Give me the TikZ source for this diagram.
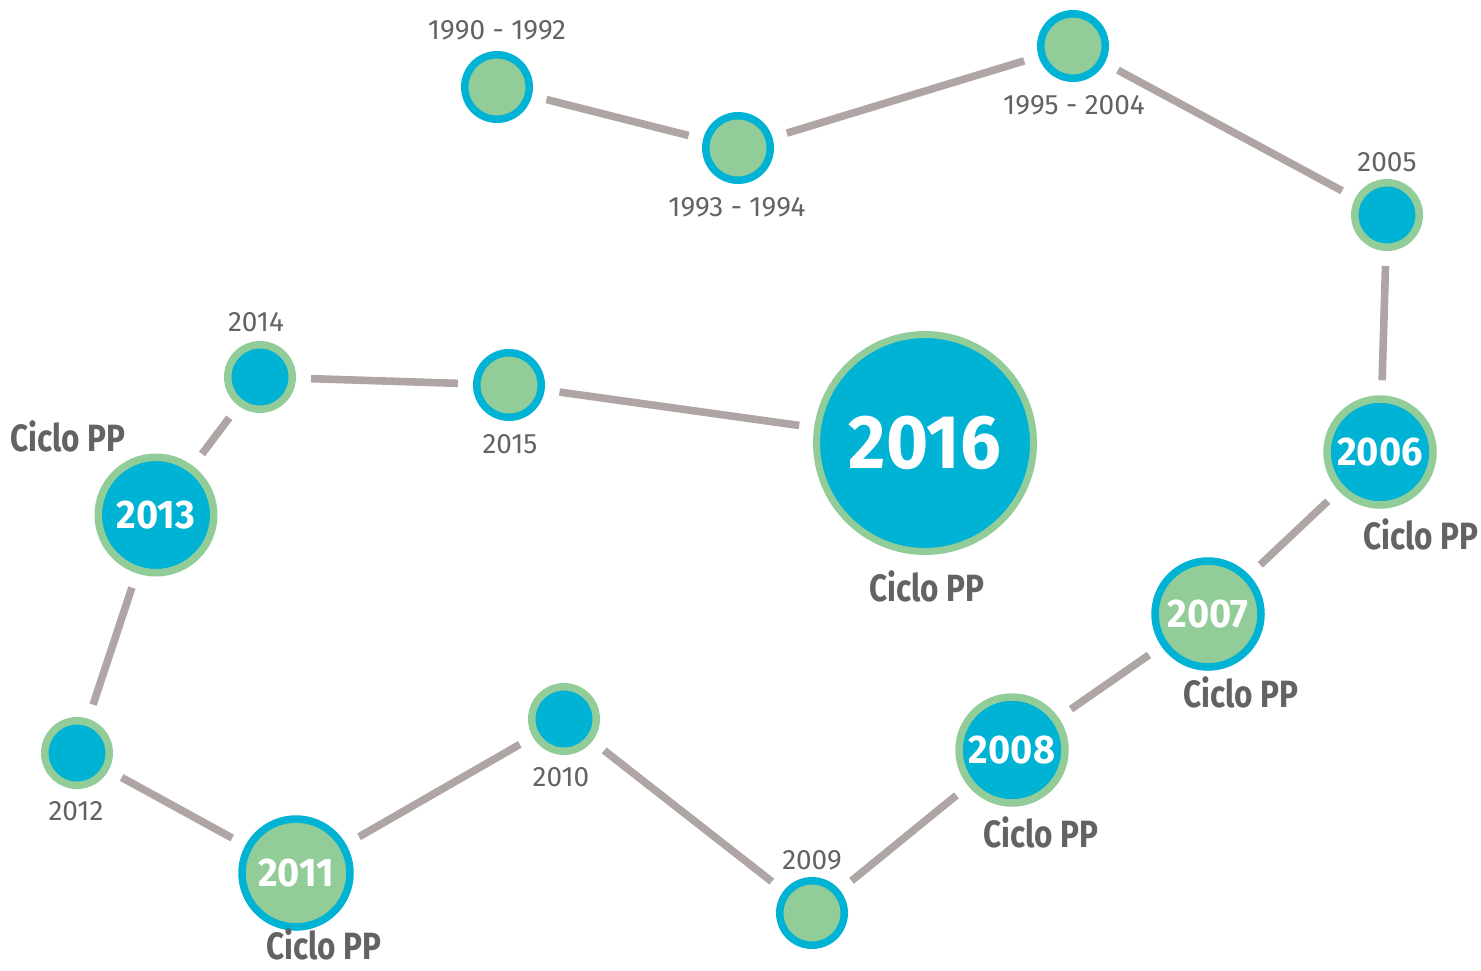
\documentclass[tikz,border=0pt]{standalone}
\usepackage{fontspec}
\setmainfont{Fira Sans}
\newfontfamily\cyclefont{Fira Sans}[FakeStretch=0.95]
\newfontfamily\ciclofont{Fira Sans}[FakeStretch=0.83]
\definecolor{ppblue}{HTML}{00B2D4}
\definecolor{ppgreen}{HTML}{92CC99}
\definecolor{ppline}{HTML}{B0A5A5}
\definecolor{pptext}{HTML}{636363}
\begin{document}
\begin{tikzpicture}[x=0.5pt,y=-0.5pt,
	greendot/.style={circle,inner sep=0pt,fill=ppgreen,draw=ppblue,line width=3.75pt,minimum size=32.25pt},
	bluedot/.style={circle,inner sep=0pt,fill=ppblue,draw=ppgreen,line width=3.75pt,minimum size=32.25pt},
	cycle/.style={minimum size=53pt,text=white,font=\cyclefont\bfseries\fontsize{20}{20}\selectfont},
	yearlab/.style={text=pptext,font=\fontsize{14}{14}\selectfont},
	ciclolab/.style={text=pptext,inner sep=1pt,font=\ciclofont\bfseries\fontsize{19}{19}\selectfont},
	link/.style={ppline,line width=3.8pt,shorten <=7.5pt,shorten >=7.5pt}]
	\useasboundingbox (0,0) rectangle (1481,970);
	% circles
	\node[greendot] (n1990) at (497,87) {};
	\node[greendot] (n1993) at (738,148) {};
	\node[greendot] (n1995) at (1073,46) {};
	\node[bluedot] (n2005) at (1387,215) {};
	\node[bluedot,cycle] (n2006) at (1380,452) {2006};
	\node[greendot,cycle] (n2007) at (1208,614) {2007};
	\node[bluedot,cycle] (n2008) at (1012,750) {2008};
	\node[greendot] (n2009) at (812,913) {};
	\node[bluedot] (n2010) at (564,719) {};
	\node[greendot,cycle,minimum size=54pt] (n2011) at (296,873) {2011};
	\node[bluedot] (n2012) at (77,753) {};
	\node[bluedot,cycle,minimum size=57.75pt] (n2013) at (156,515) {2013};
	\node[bluedot] (n2014) at (260,377) {};
	\node[greendot] (n2015) at (509,385) {};
	\node[bluedot,cycle,line width=3.5pt,minimum size=108.5pt,font=\cyclefont\bfseries\fontsize{38}{38}\selectfont] (n2016) at (925,443) {2016};
	% labels
	\node[yearlab] (t1990) at (497,30) {1990 - 1992};
	\node[yearlab] (t1993) at (737,207) {1993 - 1994};
	\node[yearlab] (t1995) at (1074,105) {1995 - 2004};
	\node[yearlab] (t2005) at (1387,162) {2005};
	\node[ciclolab] (c2006) at (1421,534) {Ciclo PP};
	\node[ciclolab] (c2007) at (1241,692) {Ciclo PP};
	\node[ciclolab] (c2008) at (1041,832) {Ciclo PP};
	\node[yearlab] (t2009) at (812,860) {2009};
	\node[yearlab] (t2010) at (561,777) {2010};
	\node[ciclolab] (c2011) at (324,944) {Ciclo PP};
	\node[yearlab] (t2012) at (76,811) {2012};
	\node[ciclolab] (c2013) at (68,436) {Ciclo PP};
	\node[yearlab] (t2014) at (256,322) {2014};
	\node[yearlab] (t2015) at (510,444) {2015};
	\node[ciclolab] (c2016) at (927,586) {Ciclo PP};
	% connectors
	\foreach \a/\b in {n1990/n1993,n1993/n1995,n1995/n2005,n2005/n2006,n2006/n2007,n2007/n2008,n2008/n2009,n2009/n2010,n2010/n2011,n2011/n2012,n2012/n2013,n2013/n2014,n2014/n2015,n2015/n2016}
		\draw[link] (\a) -- (\b);
\end{tikzpicture}
\end{document}
